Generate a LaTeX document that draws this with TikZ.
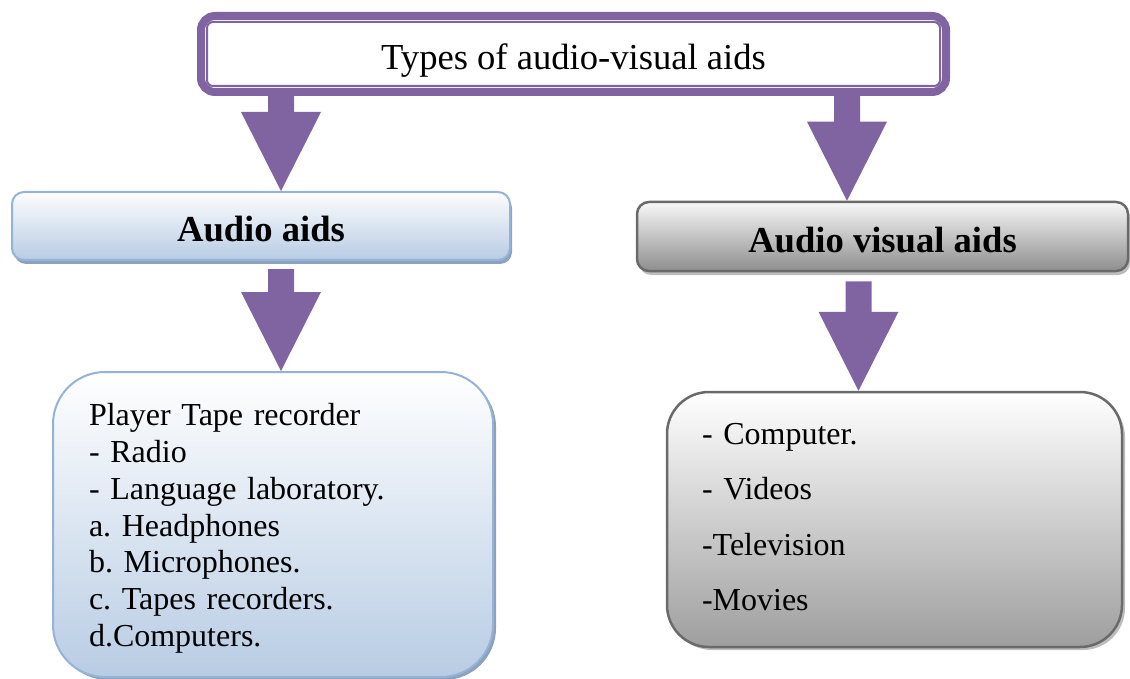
\documentclass[tikz,border=0pt]{standalone}
\usepackage{fontspec}
\setmainfont{Liberation Serif}
\usetikzlibrary{calc}
\usetikzlibrary{fit}
\usetikzlibrary{shadows}

\definecolor{aidpurple}{HTML}{8064A2}
\definecolor{blueline}{HTML}{95B3D7}
\definecolor{bluebottom}{HTML}{B8CCE4}
\definecolor{blueshadow}{HTML}{8EA1BC}
\definecolor{grayline}{HTML}{6A6A6A}
\definecolor{graybottom}{HTML}{9E9E9E}
\definecolor{grayshadow}{HTML}{BDBDBD}

\tikzset{
  titlebox/.style={draw=aidpurple, line width=2pt, fill=white, rounded corners=6pt,
    inner ysep=0pt, text height=48pt, text depth=16pt,
    font=\fontsize{36.6}{44}\selectfont},
  titleframe/.style={draw=aidpurple, line width=8pt, rounded corners=14pt, inner sep=5pt},
  bluehead/.style={draw=blueline, line width=2pt, rounded corners=12pt,
    top color=white!97!blueline, bottom color=bluebottom,
    drop shadow={shadow xshift=2pt, shadow yshift=-4pt, fill=blueshadow, opacity=1},
    minimum width=498, inner ysep=0pt, text height=50pt, text depth=18pt,
    font=\fontsize{36.6}{44}\selectfont\bfseries},
  grayhead/.style={draw=grayline, line width=2.5pt, rounded corners=12pt,
    top color=white!97!black, bottom color=graybottom!90!black,
    drop shadow={shadow xshift=2pt, shadow yshift=-4pt, fill=grayshadow, opacity=1},
    minimum width=491, inner ysep=0pt, text height=50pt, text depth=19pt,
    font=\fontsize{36.6}{44}\selectfont\bfseries},
  bluelist/.style={draw=blueline, line width=2pt, rounded corners=52pt,
    top color=white, bottom color=bluebottom,
    drop shadow={shadow xshift=3pt, shadow yshift=-3pt, fill=blueshadow, opacity=1},
    align=left, inner xsep=36pt, font=\fontsize{32}{36.7}\selectfont\frenchspacing},
  graylist/.style={draw=grayline, line width=2.5pt, rounded corners=42pt,
    top color=white, bottom color=graybottom,
    drop shadow={shadow xshift=3pt, shadow yshift=-3pt, fill=grayshadow, opacity=1},
    align=left, inner xsep=35pt, font=\fontsize{32}{55.5}\selectfont\frenchspacing},
}

% block arrow: x, from, gap below it, to
\newcommand{\blockarrow}[4]{%
  \fill[aidpurple] let \p1=(#1,0 |- #2), \p2=(#1,0 |- #4) in
    (\x1-13pt,\y1-#3pt) -- (\x1+13pt,\y1-#3pt) -- (\x1+13pt,\y2+79pt)
    -- (\x1+40pt,\y2+79pt) -- (\x2,\y2) -- (\x1-40pt,\y2+79pt)
    -- (\x1-13pt,\y2+79pt) -- cycle;}
% struts to move the list text
\newcommand{\highstrut}[1]{\rule{0pt}{#1}}
\newcommand{\lowstrut}[1]{\rule[-#1]{0pt}{#1}}

\begin{document}
\begin{tikzpicture}[x=1pt, y=-1pt]
  \useasboundingbox (0,0) rectangle (1130,679);

  \node[titlebox, minimum width=733] (types) at (573.5,54) {Types of audio-visual aids};
  \node[titleframe, fit=(types)] (frame) {};

  \node[bluehead] (audio) at (261,226) {Audio aids};
  \node[grayhead] (av) at (882.5,236.5) {Audio visual aids};

  \node[bluelist, minimum width=440, minimum height=305, text width=368]
    (audiolist) at (273,524.5)
    {\highstrut{30pt}Player Tape recorder\\
     - Radio\\
     - Language laboratory.\\
     a. Headphones\\
     b. Microphones.\\
     c. Tapes recorders.\\
     d.Computers.};
  \node[graylist, minimum width=455, minimum height=255, text width=385]
    (avlist) at (894.5,519.5)
    {- Computer.\\
     - Videos\\
     -Television\\
     -Movies\lowstrut{5pt}};

  \blockarrow{281}{frame.south}{0}{audio.north}
  \blockarrow{847}{frame.south}{0}{av.north}
  \blockarrow{281}{audio.south}{8}{audiolist.north}
  \blockarrow{858.5}{av.south}{9}{avlist.north}
\end{tikzpicture}
\end{document}
